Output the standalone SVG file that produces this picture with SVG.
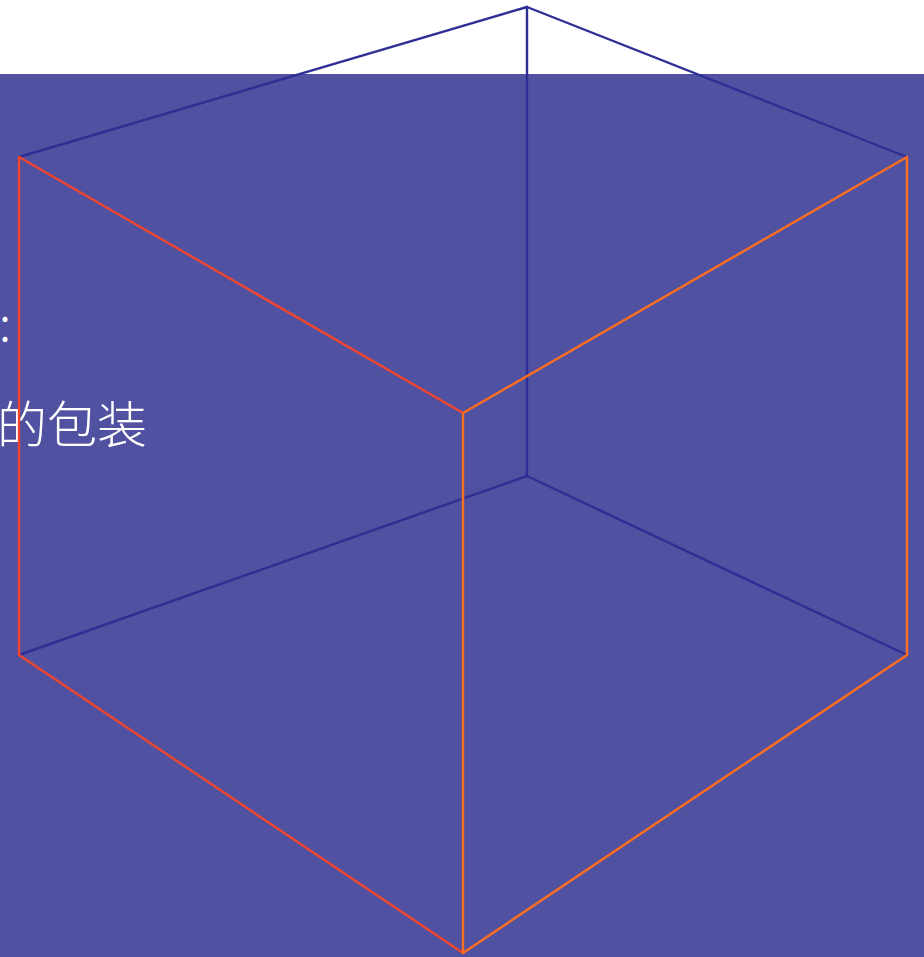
<svg xmlns="http://www.w3.org/2000/svg" width="924" height="957" viewBox="0 0 924 957">
<style>
.bg{fill:#5151A1}
.back{stroke:#2E2E95;stroke-width:2.4;fill:none;stroke-linecap:round}
.left{stroke:#F0452E;stroke-width:2.4;fill:none;stroke-linecap:round}
.right{stroke:#FF6E1E;stroke-width:2.4;fill:none;stroke-linecap:round}
.t{fill:#FFFFFF;font-family:"Noto Sans CJK SC","Liberation Serif",serif;font-weight:300}
</style>
<rect x="0" y="0" width="924" height="957" fill="#FFFFFF"/>
<rect class="bg" x="0" y="74" width="924" height="883"/>
<g id="text">
<text class="t" x="-1" y="341" font-size="48" font-family="Liberation Serif, serif">:</text>
<text class="t" x="147" y="443" font-size="50" text-anchor="end">的包装</text>
</g>
<g id="connectors">
<line class="back" x1="19" y1="157" x2="527" y2="7"/>
<line class="back" x1="527" y1="7" x2="907" y2="157"/>
<line class="back" x1="527" y1="7" x2="527" y2="476"/>
<line class="back" x1="527" y1="476" x2="19" y2="655"/>
<line class="back" x1="527" y1="476" x2="907" y2="655"/>
<line class="left" x1="19" y1="157" x2="463" y2="413"/>
<line class="left" x1="19" y1="157" x2="19" y2="655"/>
<line class="left" x1="19" y1="655" x2="463" y2="953"/>
<line class="right" x1="463" y1="413" x2="907" y2="157"/>
<line class="right" x1="907" y1="157" x2="907" y2="655"/>
<line class="right" x1="907" y1="655" x2="463" y2="953"/>
<line class="right" x1="463" y1="413" x2="463" y2="953"/>
</g>
</svg>
